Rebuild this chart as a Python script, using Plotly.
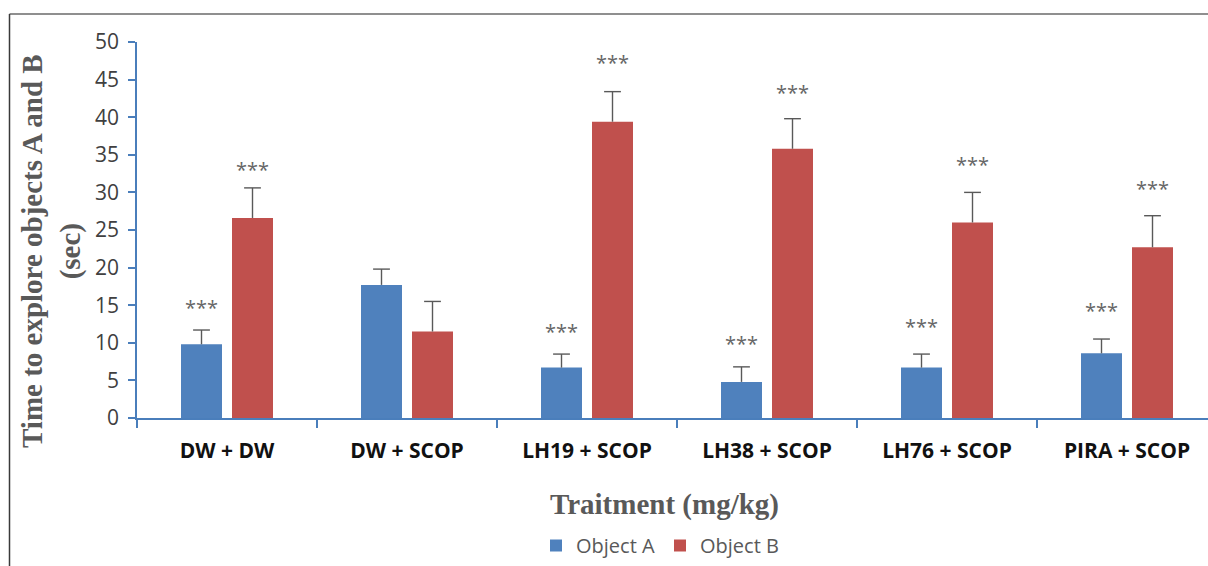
import plotly.graph_objects as go

categories = ["DW + DW", "DW + SCOP", "LH19 + SCOP", "LH38 + SCOP", "LH76 + SCOP", "PIRA + SCOP"]
series_names = ["Object A", "Object B"]
object_a = [9.8, 17.7, 6.7, 4.8, 6.7, 8.6]
object_a_err = [1.9, 2.1, 1.8, 2.0, 1.8, 1.9]
object_b = [26.6, 11.5, 39.4, 35.8, 26.0, 22.7]
object_b_err = [4.0, 4.0, 4.0, 4.0, 4.0, 4.2]
sig_a = ["***", "", "***", "***", "***", "***"]
sig_a_y = [15.2, None, 12.1, 10.5, 12.7, 14.8]
sig_b = ["***", "", "***", "***", "***", "***"]
sig_b_y = [33.6, None, 47.8, 43.8, 34.2, 31.0]
y_ticks = [0, 5, 10, 15, 20, 25, 30, 35, 40, 45, 50]

BLUE = "#4F81BD"
RED = "#C0504D"
AXIS = "#4A7EBB"
ERR = "#595959"
GRAY = "#595959"

W, H = 1208, 566
L, R, T, B = 137, 0, 42, 148
pw = W - L - R
ph = H - T - B
CAT_PX = 180.0           # pixel width of one category slot
BAR_W = 41 / CAT_PX      # bar width in category units
OFFSET = 25.5 / CAT_PX   # half distance between bar centres

idx = list(range(len(categories)))

fig = go.Figure()
series = [(series_names[0], object_a, object_a_err, BLUE, -OFFSET, sig_a, sig_a_y),
          (series_names[1], object_b, object_b_err, RED, OFFSET, sig_b, sig_b_y)]

annotations = []
for name, vals, errs, col, off, sig, sig_y in series:
    xs = [i + off for i in idx]
    fig.add_trace(go.Bar(x=xs, y=vals, name=name, width=BAR_W,
                         marker=dict(color=col, line=dict(width=0))))
for name, vals, errs, col, off, sig, sig_y in series:
    xs = [i + off for i in idx]
    fig.add_trace(go.Scatter(x=xs, y=vals, mode="markers", showlegend=False, hoverinfo="skip",
                             marker=dict(size=1, opacity=0),
                             error_y=dict(type="data", array=errs, arrayminus=[0] * len(errs),
                                          symmetric=False, color=ERR, thickness=1.4, width=0)))
    fig.add_trace(go.Scatter(x=xs, y=[v + e for v, e in zip(vals, errs)], mode="markers",
                             showlegend=False, hoverinfo="skip",
                             marker=dict(symbol="line-ew", size=12, color=ERR,
                                         line=dict(color=ERR, width=1.4))))
    for x, s, yv in zip(xs, sig, sig_y):
        if s and yv is not None:
            annotations.append(dict(x=x, y=yv, xref="x", yref="y", text=s, showarrow=False,
                                    yshift=-4, xanchor="center", yanchor="middle",
                                    font=dict(family="Open Sans", size=20, color="#666666")))


def px_to_paper_x(px):
    return (px - L) / pw


def px_to_paper_y(py):
    return (H - B - py) / ph


annotations.append(dict(
    text="Time to explore objects A and B<br>(sec)", textangle=-90,
    xref="paper", yref="paper", x=px_to_paper_x(51), y=px_to_paper_y(251),
    xanchor="center", yanchor="middle", showarrow=False,
    font=dict(family="Liberation Serif", size=29, color=GRAY, weight="bold")))
annotations.append(dict(
    text="Traitment (mg/kg)",
    xref="paper", yref="paper", x=px_to_paper_x(664), y=px_to_paper_y(504),
    xanchor="center", yanchor="middle", showarrow=False,
    font=dict(family="Liberation Serif", size=29, color=GRAY, weight="bold")))

shapes = [
    dict(type="line", xref="paper", yref="paper", x0=px_to_paper_x(9.5), x1=px_to_paper_x(1210),
         y0=px_to_paper_y(14), y1=px_to_paper_y(14), line=dict(color="#6a6a6a", width=1.5)),
    dict(type="line", xref="paper", yref="paper", x0=px_to_paper_x(9.5), x1=px_to_paper_x(9.5),
         y0=px_to_paper_y(14), y1=px_to_paper_y(570), line=dict(color="#3a3a3a", width=1.5)),
]

fig.update_layout(
    width=W, height=H,
    margin=dict(l=L, r=R, t=T, b=B, pad=0),
    paper_bgcolor="white", plot_bgcolor="white",
    barmode="overlay",
    showlegend=True,
    legend=dict(orientation="h", xanchor="center", yanchor="bottom",
                x=px_to_paper_x(660), y=px_to_paper_y(565),
                font=dict(family="Open Sans", size=20, color=GRAY),
                traceorder="normal"),
    annotations=annotations,
    shapes=shapes,
    xaxis=dict(range=[-0.5, -0.5 + pw / CAT_PX],
               tickvals=idx, ticktext=categories, ticks="", ticklabelstandoff=13,
               showline=True, linecolor=AXIS, linewidth=1.5,
               minor=dict(tick0=0.5, dtick=1, ticks="outside", ticklen=8,
                          tickcolor=AXIS, tickwidth=1.5, showgrid=False),
               tickfont=dict(family="Open Sans", size=21, color="#111111", weight="bold"),
               showgrid=False, zeroline=False, fixedrange=True),
    yaxis=dict(range=[0, 50], tickvals=y_ticks,
               showline=True, linecolor=AXIS, linewidth=1.5,
               ticks="outside", ticklen=7, tickcolor=AXIS, tickwidth=1.5,
               ticklabelstandoff=5,
               tickfont=dict(family="Open Sans", size=21, color="#404040"),
               showgrid=False, zeroline=False),
)

fig.write_html("out.html")
